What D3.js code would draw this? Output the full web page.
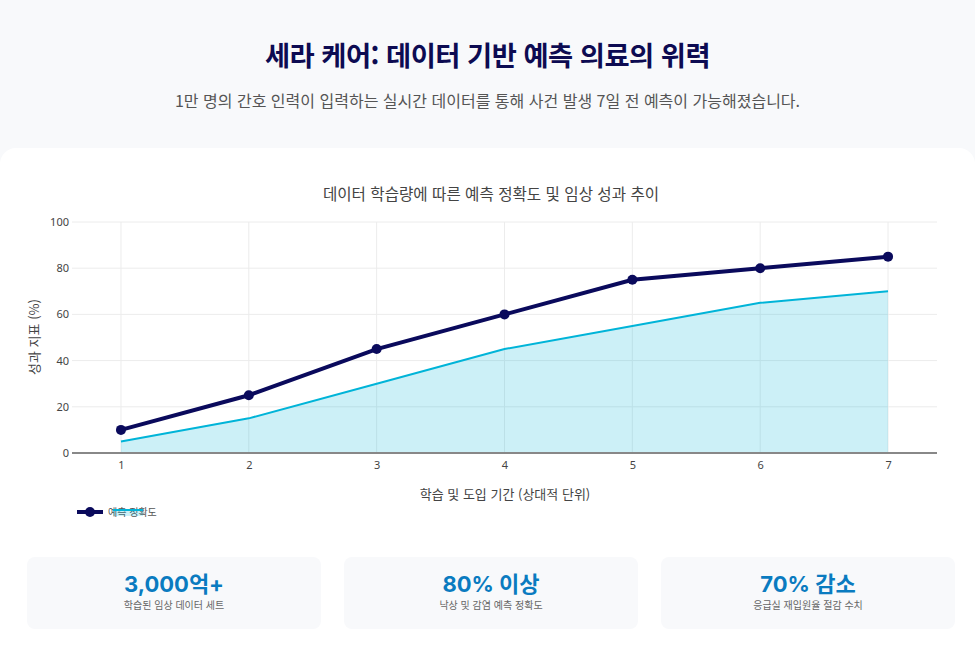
<!DOCTYPE html>
<html lang="ko">
<head>
  <meta charset="UTF-8">
  <title>세라 케어</title>
  <script src="https://d3js.org/d3.v7.min.js"></script>
  <style>
    body {
      margin: 0;
      padding: 0;
      width: 975px;
      height: 648px;
      overflow: hidden;
      background: #f8f9fb;
      font-family: 'Noto Sans CJK KR', 'Noto Sans', sans-serif;
      position: relative;
    }
    h1 {
      position: absolute;
      top: 34px;
      left: 0;
      width: 975px;
      margin: 0;
      text-align: center;
      font-size: 27.3px;
      font-weight: 700;
      color: #0d0b52;
      letter-spacing: -0.5px;
    }
    .sub {
      position: absolute;
      top: 88px;
      left: 0;
      width: 975px;
      text-align: center;
      font-size: 16px;
      color: #555;
    }
    .card {
      position: absolute;
      top: 148px;
      left: 0;
      width: 975px;
      height: 520px;
      background: #fff;
      border-radius: 16px 16px 0 0;
    }
    #chart {
      position: absolute;
      top: 0;
      left: 0;
    }
    .stat {
      position: absolute;
      top: 557px;
      width: 294px;
      height: 72px;
      background: #f8f9fb;
      border-radius: 8px;
      text-align: center;
    }
    .stat .v {
      margin-top: 13px;
      font-family: Inter, 'Noto Sans CJK KR', sans-serif;
      font-size: 22px;
      font-weight: 700;
      color: #0a7bc0;
      line-height: 28px;
    }
    .stat .l {
      font-size: 10px;
      color: #666;
      line-height: 14px;
    }
  </style>
</head>
<body>
  <h1>세라 케어: 데이터 기반 예측 의료의 위력</h1>
  <div class="sub">1만 명의 간호 인력이 입력하는 실시간 데이터를 통해 사건 발생 7일 전 예측이 가능해졌습니다.</div>
  <div class="card"></div>
  <svg id="chart" width="975" height="545"></svg>
  <div id="stats"></div>

  <script>
    // chart data
    const periods = [1, 2, 3, 4, 5, 6, 7];
    const accuracy = [10, 25, 45, 60, 75, 80, 85];
    const outcome = [5, 15, 30, 45, 55, 65, 70];
    const yTicks = [0, 20, 40, 60, 80, 100];

    const statValues = ['3,000억+', '80% 이상', '70% 감소'];
    const statLabels = ['학습된 임상 데이터 세트', '낙상 및 감염 예측 정확도', '응급실 재입원율 절감 수치'];

    const svg = d3.select('#chart');
    const x = d3.scaleLinear().domain([0.617, 7.383]).range([72, 937]);
    const y = d3.scaleLinear().domain([0, 100]).range([453, 222]);

    // grid
    svg.append('g')
      .selectAll('line')
      .data(yTicks.slice(1))
      .join('line')
      .attr('x1', x.range()[0]).attr('x2', x.range()[1])
      .attr('y1', d => y(d)).attr('y2', d => y(d))
      .attr('stroke', '#ececec');

    svg.append('g')
      .selectAll('line')
      .data(periods)
      .join('line')
      .attr('x1', d => x(d)).attr('x2', d => x(d))
      .attr('y1', y(0)).attr('y2', y(100))
      .attr('stroke', '#ececec');

    // area + line for clinical outcome
    const pts = periods.map((p, i) => ({ p, a: accuracy[i], o: outcome[i] }));

    svg.append('path')
      .datum(pts)
      .attr('fill', 'rgba(0, 180, 216, 0.2)')
      .attr('d', d3.area().x(d => x(d.p)).y0(y(0)).y1(d => y(d.o)));

    svg.append('path')
      .datum(pts)
      .attr('fill', 'none')
      .attr('stroke', '#00b4d8')
      .attr('stroke-width', 2)
      .attr('d', d3.line().x(d => x(d.p)).y(d => y(d.o)));

    // zero line
    svg.append('line')
      .attr('x1', x.range()[0]).attr('x2', x.range()[1])
      .attr('y1', y(0)).attr('y2', y(0))
      .attr('stroke', '#888').attr('stroke-width', 2);

    // accuracy line
    svg.append('path')
      .datum(pts)
      .attr('fill', 'none')
      .attr('stroke', '#0a0a5c')
      .attr('stroke-width', 4)
      .attr('d', d3.line().x(d => x(d.p)).y(d => y(d.a)));

    svg.append('g')
      .selectAll('circle')
      .data(pts)
      .join('circle')
      .attr('cx', d => x(d.p))
      .attr('cy', d => y(d.a))
      .attr('r', 5)
      .attr('fill', '#0a0a5c');

    // axes (labels only, like plotly)
    const yAxis = svg.append('g')
      .attr('transform', `translate(${x.range()[0]},0)`)
      .call(d3.axisLeft(y).tickValues(yTicks).tickSize(0).tickPadding(3));
    yAxis.select('.domain').remove();
    yAxis.selectAll('text')
      .attr('font-family', "'Noto Sans', sans-serif")
      .attr('font-size', 11)
      .attr('fill', '#444');

    const xAxis = svg.append('g')
      .attr('transform', `translate(0,${y(0)})`)
      .call(d3.axisBottom(x).tickValues(periods).tickFormat(d3.format('d')).tickSize(0).tickPadding(8));
    xAxis.select('.domain').remove();
    xAxis.selectAll('text')
      .attr('font-family', "'Noto Sans', sans-serif")
      .attr('font-size', 11)
      .attr('fill', '#444');

    // titles
    svg.append('text')
      .attr('x', 491).attr('y', 200)
      .attr('text-anchor', 'middle')
      .attr('font-size', 15.6)
      .attr('fill', '#444')
      .text('데이터 학습량에 따른 예측 정확도 및 임상 성과 추이');

    svg.append('text')
      .attr('x', 505).attr('y', 499)
      .attr('text-anchor', 'middle')
      .attr('font-size', 13)
      .attr('fill', '#444')
      .text('학습 및 도입 기간 (상대적 단위)');

    svg.append('text')
      .attr('transform', 'translate(39,337) rotate(-90)')
      .attr('text-anchor', 'middle')
      .attr('font-size', 13)
      .attr('fill', '#444')
      .text('성과 지표 (%)');

    // legend (items overlap as in the source)
    const lg = svg.append('g').attr('transform', 'translate(77,512)');
    lg.append('line').attr('x1', 0).attr('x2', 26).attr('stroke', '#0a0a5c').attr('stroke-width', 4);
    lg.append('circle').attr('cx', 13).attr('r', 5).attr('fill', '#0a0a5c');
    lg.append('text').attr('x', 31).attr('y', 3.5).attr('font-size', 10).attr('fill', '#555').text('예측 정확도');
    lg.append('rect').attr('x', 36).attr('y', -2).attr('width', 30).attr('height', 6).attr('fill', 'rgba(0, 180, 216, 0.2)');
    lg.append('line').attr('x1', 36).attr('x2', 66).attr('y1', -2).attr('y2', -2).attr('stroke', '#00b4d8').attr('stroke-width', 2);

    // stat cards
    d3.select('#stats')
      .selectAll('div.stat')
      .data(statValues)
      .join('div')
      .attr('class', 'stat')
      .style('left', (d, i) => (27 + i * 317) + 'px')
      .each(function (d, i) {
        d3.select(this).append('div').attr('class', 'v').text(d);
        d3.select(this).append('div').attr('class', 'l').text(statLabels[i]);
      });
  </script>
</body>
</html>
